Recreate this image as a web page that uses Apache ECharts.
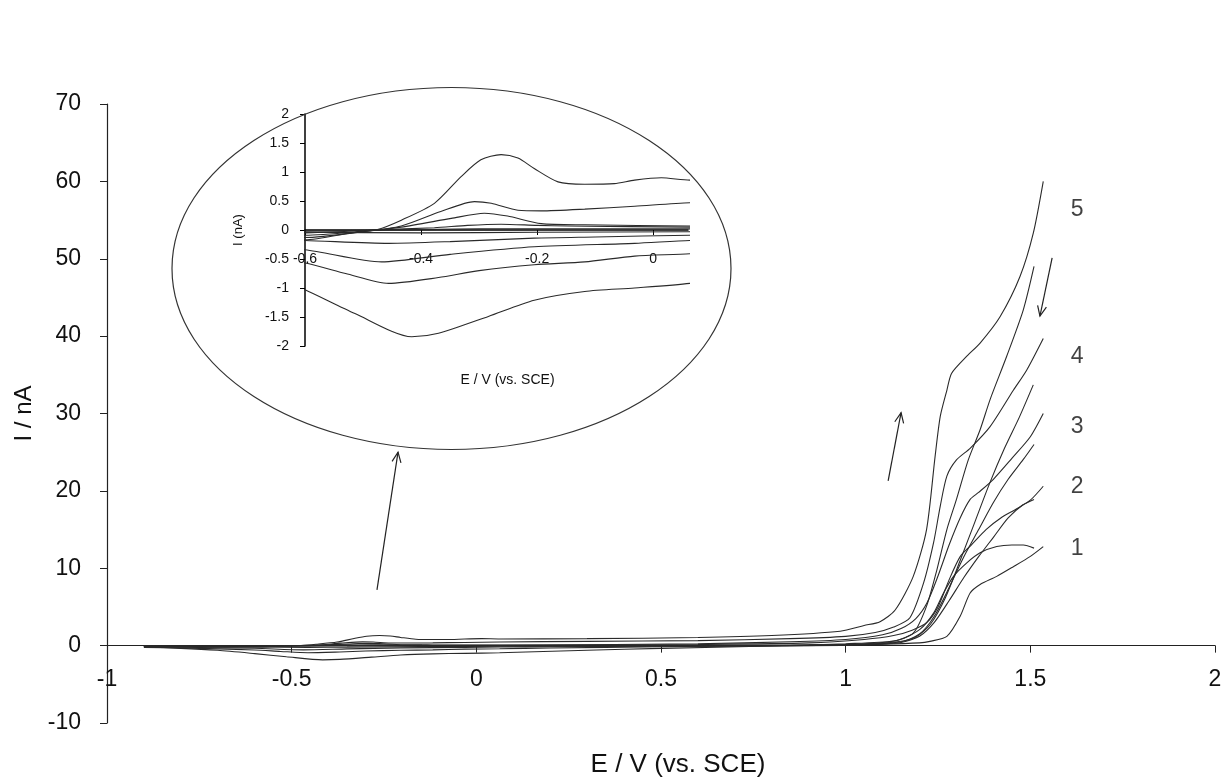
<!DOCTYPE html>
<html><head><meta charset="utf-8">
<script src="https://cdn.jsdelivr.net/npm/echarts@6/dist/echarts.min.js"></script>
<style>html,body{margin:0;padding:0;background:#fff}#c{width:1230px;height:783px}</style>
</head><body><div id="c"></div>
<script>
// ---- data: [E (V vs SCE), I (nA)] ----
const cycle1Forward = [[-0.9,-0.06],[-0.75,-0.04],[-0.6,-0.02],[-0.45,0.0],[-0.3,0.02],[-0.1,0.02],[0.06,0.02],[0.3,0.03],[0.6,0.05],[0.9,0.1],[1.1,0.2],[1.2,0.35],[1.228,0.55],[1.274,1.2],[1.31,3.8],[1.337,6.8],[1.364,7.9],[1.409,8.95],[1.454,10.2],[1.499,11.5],[1.535,12.8]];
const cycle1Reverse = [[1.51,12.6],[1.481,13.0],[1.45,13.0],[1.409,12.8],[1.364,12.0],[1.328,10.7],[1.292,8.95],[1.265,6.8],[1.238,4.2],[1.201,2.1],[1.147,0.8],[1.1,0.4],[1.0,0.1],[0.8,0.0],[0.5,-0.02],[0.2,-0.03],[0.06,-0.03],[-0.2,-0.04],[-0.4,-0.05],[-0.6,-0.04],[-0.75,-0.08],[-0.9,-0.1]];
const cycle2Forward = [[-0.9,-0.08],[-0.75,-0.06],[-0.6,-0.05],[-0.48,0.0],[-0.377,0.04],[-0.32,0.08],[-0.262,0.1],[-0.2,0.08],[-0.147,0.07],[0.063,0.05],[0.3,0.08],[0.6,0.15],[0.9,0.35],[1.05,0.8],[1.13,1.3],[1.18,2.0],[1.22,3.0],[1.25,5],[1.28,8.5],[1.31,11.5],[1.34,13],[1.38,15],[1.42,16.5],[1.46,17.6],[1.5,18.8],[1.535,20.6]];
const cycle2Reverse = [[1.51,18.9],[1.48,18.2],[1.44,16.5],[1.4,14],[1.36,11.5],[1.32,8.8],[1.28,5.8],[1.24,3],[1.2,1.2],[1.15,0.4],[1.05,0.1],[0.8,-0.02],[0.5,-0.05],[0.2,-0.08],[0.063,-0.09],[-0.1,-0.12],[-0.205,-0.14],[-0.35,-0.2],[-0.456,-0.23],[-0.6,-0.18],[-0.75,-0.15],[-0.9,-0.12]];
const cycle3Forward = [[-0.9,-0.1],[-0.75,-0.08],[-0.6,-0.09],[-0.5,-0.02],[-0.434,0.05],[-0.348,0.2],[-0.291,0.29],[-0.251,0.24],[-0.193,0.11],[-0.118,0.09],[0.063,0.07],[0.3,0.12],[0.6,0.25],[0.85,0.5],[1.0,0.8],[1.1,1.4],[1.15,2.2],[1.19,3.5],[1.22,5.5],[1.25,9],[1.28,13],[1.31,16.5],[1.337,18.9],[1.36,19.8],[1.4,21.5],[1.45,24.2],[1.5,27],[1.535,30]];
const cycle3Reverse = [[1.51,26],[1.48,24],[1.44,21.5],[1.4,18.5],[1.36,15],[1.32,11.5],[1.28,7.5],[1.24,3.8],[1.2,1.5],[1.15,0.5],[1.05,0.15],[0.8,-0.02],[0.5,-0.08],[0.2,-0.15],[0.063,-0.18],[-0.032,-0.23],[-0.205,-0.29],[-0.35,-0.42],[-0.468,-0.55],[-0.6,-0.34],[-0.75,-0.25],[-0.9,-0.18]];
const cycle4Forward = [[-0.9,-0.12],[-0.75,-0.12],[-0.6,-0.13],[-0.5,-0.03],[-0.434,0.07],[-0.366,0.32],[-0.308,0.49],[-0.279,0.46],[-0.233,0.34],[-0.193,0.33],[-0.118,0.36],[-0.032,0.41],[0.063,0.47],[0.3,0.55],[0.6,0.65],[0.85,0.9],[1.0,1.2],[1.08,1.7],[1.13,2.4],[1.174,3.6],[1.211,8.1],[1.238,13.3],[1.256,18],[1.274,21.9],[1.3,24],[1.337,25.5],[1.391,28.3],[1.454,33],[1.49,35.6],[1.535,39.7]];
const cycle4Reverse = [[1.508,33.7],[1.47,29.5],[1.43,25.5],[1.39,21],[1.35,16],[1.31,11],[1.27,6.2],[1.23,2.8],[1.19,1.1],[1.14,0.5],[1.05,0.2],[0.8,0.0],[0.5,-0.15],[0.2,-0.3],[0.063,-0.41],[-0.032,-0.45],[-0.118,-0.55],[-0.205,-0.6],[-0.3,-0.7],[-0.37,-0.82],[-0.456,-0.92],[-0.53,-0.75],[-0.6,-0.57],[-0.75,-0.35],[-0.9,-0.2]];
const cycle5Forward = [[-0.9,-0.15],[-0.75,-0.14],[-0.6,-0.17],[-0.52,-0.05],[-0.475,0.01],[-0.434,0.17],[-0.377,0.46],[-0.331,0.92],[-0.297,1.21],[-0.262,1.3],[-0.233,1.24],[-0.205,1.06],[-0.164,0.83],[-0.118,0.79],[-0.067,0.8],[-0.032,0.86],[0.014,0.9],[0.063,0.86],[0.3,0.9],[0.6,1.05],[0.8,1.3],[0.985,1.85],[1.05,2.6],[1.093,3.1],[1.134,4.6],[1.183,8.95],[1.219,15],[1.242,24.4],[1.256,29.6],[1.274,33],[1.287,35.2],[1.328,37.4],[1.364,39.1],[1.418,42.5],[1.472,47.7],[1.508,53.3],[1.535,60]];
const cycle5Reverse = [[1.51,49],[1.481,43.4],[1.436,37.4],[1.391,31.8],[1.364,27.9],[1.332,24],[1.3,18.9],[1.274,15],[1.247,9.8],[1.219,5.1],[1.183,1.6],[1.13,0.6],[1.0,0.25],[0.8,-0.05],[0.5,-0.35],[0.3,-0.6],[0.063,-0.92],[-0.032,-1.0],[-0.118,-1.06],[-0.205,-1.21],[-0.284,-1.49],[-0.37,-1.78],[-0.416,-1.84],[-0.514,-1.44],[-0.6,-1.03],[-0.7,-0.6],[-0.8,-0.35],[-0.9,-0.22]];

const cycleNames = ['1','2','3','4','5'];
// curve number labels placed beside the curve ends [E, I, text]
const curveLabelAnchors = [[1.627,12.5,'1'],[1.627,20.5,'2'],[1.627,28.3,'3'],[1.627,37.3,'4'],[1.627,56.3,'5']];
// arrows [fromE, fromI, toE, toI] in main-axis units
const arrowAnnotations = [[-0.269,7.2,-0.212,25.0],[1.115,21.3,1.150,30.1],[1.559,50.1,1.526,42.6]];

const mainXTitle = 'E / V (vs. SCE)';
const mainYTitle = 'I / nA';
const insetXTitle = 'E / V (vs. SCE)';
const insetYTitle = 'I (nA)';
const insetXTickValues = [-0.6,-0.4,-0.2,0];

const FONT = '"Liberation Sans", Arial, sans-serif';
const LINE = '#2a2a2a';
const curves = [cycle1Forward,cycle1Reverse,cycle2Forward,cycle2Reverse,cycle3Forward,cycle3Reverse,cycle4Forward,cycle4Reverse,cycle5Forward,cycle5Reverse];
const curveNames = [];
cycleNames.forEach(n => { curveNames.push('cycle ' + n + ' forward', 'cycle ' + n + ' reverse'); });

function mkLine(data, idx, name) {
  return { type:'line', name, xAxisIndex:idx, yAxisIndex:idx, data, symbol:'none', smooth:0.25,
    lineStyle:{ color:LINE, width:1.1 }, clip:true, silent:true, animation:false, z:3 };
}
const series = [];
curves.forEach((d,i) => series.push(mkLine(d, 0, curveNames[i])));
curves.forEach((d,i) => series.push(mkLine(d, 1, curveNames[i] + ' (inset)')));
series.push({ type:'scatter', xAxisIndex:0, yAxisIndex:0, data:curveLabelAnchors, symbolSize:1,
  itemStyle:{ color:'rgba(0,0,0,0)' }, silent:true, animation:false,
  label:{ show:true, position:'inside', formatter:p => p.value[2], fontSize:23, fontFamily:FONT, color:'#111' } });

// main grid: 619 px for 80 nA -> zero line 77.375 px above the bottom edge
const MAIN_ZERO_OFFSET = -619 / 8;
// inset grid: 232 px for 4 nA -> zero line at the middle
const INSET_ZERO_OFFSET = -116;

const chart = echarts.init(document.getElementById('c'));
chart.setOption({
  animation:false,
  backgroundColor:'#fff',
  grid:[
    { left:107, top:104, width:1108, height:619, containLabel:false, outerBoundsMode:'none' },
    { left:305, top:114, width:383, height:232, containLabel:false, outerBoundsMode:'none' }
  ],
  xAxis:[
    { type:'value', gridIndex:0, min:-1, max:2, interval:0.5, position:'bottom', offset:MAIN_ZERO_OFFSET,
      axisLine:{ onZero:false, lineStyle:{ color:'#222', width:1.2 } },
      axisTick:{ show:true, inside:false, length:7, lineStyle:{ color:'#222' } },
      axisLabel:{ fontSize:23, fontFamily:FONT, color:'#111', margin:23 },
      splitLine:{ show:false },
      name:mainXTitle, nameLocation:'middle', nameGap:106,
      nameTextStyle:{ fontSize:26, fontFamily:FONT, color:'#111', padding:[0,0,0,34] } },
    { type:'value', gridIndex:1, min:-0.6, max:0.06, position:'bottom', offset:INSET_ZERO_OFFSET,
      axisLine:{ onZero:false, lineStyle:{ color:'#000', width:1.5 } },
      axisTick:{ show:true, length:5, customValues:insetXTickValues, lineStyle:{ color:'#000' } },
      axisLabel:{ fontSize:14, fontFamily:FONT, color:'#111', margin:22, customValues:insetXTickValues },
      splitLine:{ show:false },
      name:insetXTitle, nameLocation:'middle', nameGap:143,
      nameTextStyle:{ fontSize:14, fontFamily:FONT, color:'#111', padding:[0,0,0,22] } }
  ],
  yAxis:[
    { type:'value', gridIndex:0, min:-10, max:70, interval:10,
      axisLine:{ show:true, onZero:false, lineStyle:{ color:'#222', width:1.2 } },
      axisTick:{ show:true, length:7, lineStyle:{ color:'#222' } },
      axisLabel:{ fontSize:23, fontFamily:FONT, color:'#111', margin:26 },
      splitLine:{ show:false },
      name:mainYTitle, nameLocation:'middle', nameGap:66,
      nameTextStyle:{ fontSize:24, fontFamily:FONT, color:'#111' } },
    { type:'value', gridIndex:1, min:-2, max:2, interval:0.5,
      axisLine:{ show:true, onZero:false, lineStyle:{ color:'#000', width:1.5 } },
      axisTick:{ show:true, length:5, lineStyle:{ color:'#000' } },
      axisLabel:{ fontSize:14, fontFamily:FONT, color:'#111', margin:16 },
      splitLine:{ show:false },
      name:insetYTitle, nameLocation:'middle', nameGap:60,
      nameTextStyle:{ fontSize:13, fontFamily:FONT, color:'#111' } }
  ],
  series
});

// decorations: ellipse round the inset and the direction arrows
const graphics = [{ type:'ellipse', shape:{ cx:451.5, cy:268.5, rx:279.5, ry:181 },
  style:{ fill:null, stroke:'#333', lineWidth:1.2 }, z:1, silent:true }];
arrowAnnotations.forEach(a => {
  const p0 = chart.convertToPixel({ gridIndex:0 }, [a[0], a[1]]);
  const p1 = chart.convertToPixel({ gridIndex:0 }, [a[2], a[3]]);
  const ang = Math.atan2(p1[1]-p0[1], p1[0]-p0[0]);
  const L = 11, spread = 0.42;
  const h1 = [p1[0] - L*Math.cos(ang - spread), p1[1] - L*Math.sin(ang - spread)];
  const h2 = [p1[0] - L*Math.cos(ang + spread), p1[1] - L*Math.sin(ang + spread)];
  graphics.push({ type:'polyline', shape:{ points:[p0, p1] }, style:{ stroke:'#222', lineWidth:1.2, fill:null }, silent:true, z:5 });
  graphics.push({ type:'polyline', shape:{ points:[h1, p1, h2] }, style:{ stroke:'#222', lineWidth:1.2, fill:null }, silent:true, z:5 });
});
chart.setOption({ graphic:graphics });
</script>
</body></html>
